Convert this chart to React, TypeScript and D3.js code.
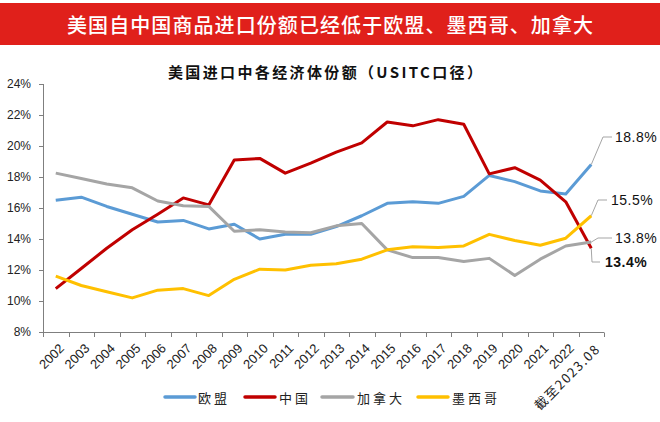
import React from "react";
import * as d3 from "d3";

const categories = ["2002","2003","2004","2005","2006","2007","2008","2009","2010","2011","2012","2013","2014","2015","2016","2017","2018","2019","2020","2021","2022","截至2023.08"];
const eu = [16.5,16.7,16.1,15.6,15.1,15.2,14.65,14.95,14.0,14.3,14.3,14.8,15.5,16.3,16.4,16.3,16.75,18.1,17.7,17.1,16.9,18.8];
const china = [10.8,12.1,13.4,14.6,15.6,16.65,16.2,19.1,19.2,18.25,18.9,19.6,20.2,21.55,21.3,21.7,21.4,18.2,18.6,17.8,16.4,13.4];
const canada = [18.25,17.9,17.55,17.3,16.45,16.15,16.1,14.5,14.6,14.45,14.4,14.85,15.0,13.3,12.8,12.8,12.55,12.75,11.65,12.7,13.55,13.8];
const mexico = [11.6,11.0,10.6,10.2,10.7,10.8,10.35,11.4,12.05,12.0,12.3,12.4,12.7,13.3,13.5,13.45,13.55,14.3,13.9,13.6,14.05,15.5];
const yTicks = [8,10,12,14,16,18,20,22,24];
const seriesNames = ["欧盟","中国","加拿大","墨西哥"];
const seriesColors = ["#5B9BD5","#C00000","#A5A5A5","#FFC000"];
const endLabels = ["18.8%","13.4%","13.8%","15.5%"];

const W = 660, H = 422;

export default function App() {
  const x = d3.scaleBand<string>().domain(categories).range([43, 604]).padding(0);
  const y = d3.scaleLinear().domain([8, 24]).range([332, 84]);
  const cx = (c: string) => (x(c) as number) + x.bandwidth() / 2;
  const line = d3.line<number>().x((_, i) => cx(categories[i])).y((v) => y(v));
  const all = [eu, china, canada, mexico];
  const last = categories[categories.length - 1];
  const lx = cx(last);
  const edges = categories.map((c) => x(c) as number).concat([604]);

  const leaders = [
    { s: 0, ex: 603, ey: 137, tx: 612, lab: 615, bold: false },
    { s: 3, ex: 598, ey: 200, tx: 607, lab: 611, bold: false },
    { s: 2, ex: 598, ey: 238, tx: 612, lab: 615, bold: false },
    { s: 1, ex: 592, ey: 262, tx: 600, lab: 605, bold: true },
  ];

  const legendItems = [
    { x: 165, w: 30, tx: 198 },
    { x: 245, w: 30, tx: 279 },
    { x: 322, w: 31, tx: 357 },
    { x: 418, w: 30, tx: 452 },
  ];

  return (
    <svg width={W} height={H} style={{ position: "absolute", left: 0, top: 0, background: "#fff" }}>
      <rect x={0} y={0} width={W} height={H} fill="#fff" />
      <rect x={0} y={3} width={W} height={42} fill="#E0201B" />
      <text x={330} y={24} textAnchor="middle" dominantBaseline="central" fill="#fff"
        fontFamily="'Noto Sans CJK SC'" fontSize={20} fontWeight={500} textLength={526} lengthAdjust="spacing">
        美国自中国商品进口份额已经低于欧盟、墨西哥、加拿大
      </text>
      <text x={168} y={71} dominantBaseline="central" fill="#111"
        fontFamily="'Noto Sans CJK SC'" fontSize={15} fontWeight={700} textLength={314} lengthAdjust="spacing">
        美国进口中各经济体份额（USITC口径）
      </text>

      <line x1={43.5} x2={43.5} y1={y(24)} y2={y(8)} stroke="#7f7f7f" strokeWidth={1} />
      {yTicks.map((t) => (
        <g key={t}>
          <line x1={39} x2={43.5} y1={y(t) + 0.5} y2={y(t) + 0.5} stroke="#7f7f7f" />
          <text x={31} y={y(t)} textAnchor="end" dominantBaseline="central" fontFamily="'Liberation Sans', Arial" fontSize={12} fill="#222">
            {t}%
          </text>
        </g>
      ))}
      <line x1={43} x2={604} y1={332.5} y2={332.5} stroke="#7f7f7f" strokeWidth={1} />
      {edges.map((e, i) => (
        <line key={i} x1={Math.round(e) + 0.5} x2={Math.round(e) + 0.5} y1={332.5} y2={337} stroke="#7f7f7f" />
      ))}
      {categories.map((c, i) => {
        const isLast = i === categories.length - 1;
        return (
          <text key={c} transform={`translate(${cx(c) + 6},${346}) rotate(-45)`} textAnchor="end"
            dominantBaseline="central" fontFamily={isLast ? "'Noto Sans CJK SC', 'Liberation Sans'" : "'Liberation Sans', Arial"}
            fontSize={13} fill="#222" letterSpacing={isLast ? 1.5 : 0}>
            {c}
          </text>
        );
      })}

      {all.map((d, i) => (
        <path key={i} d={line(d) || ""} fill="none" stroke={seriesColors[i]} strokeWidth={3} strokeLinejoin="round" />
      ))}

      {leaders.map((l, i) => {
        const py = y(all[l.s][all[l.s].length - 1]);
        return (
          <g key={i}>
            <polyline points={`${lx},${py} ${l.ex},${l.ey} ${l.tx},${l.ey}`} fill="none" stroke="#A5A5A5" strokeWidth={1} />
            <text x={l.lab} y={l.ey} dominantBaseline="central" fontFamily="'Liberation Sans', Arial" fontSize={14}
              fontWeight={l.bold ? 700 : 400} fill="#111" letterSpacing={0.5}>
              {endLabels[l.s]}
            </text>
          </g>
        );
      })}

      {legendItems.map((it, i) => (
        <g key={i}>
          <line x1={it.x} x2={it.x + it.w} y1={397} y2={397} stroke={seriesColors[i]} strokeWidth={3.5} strokeLinecap="round" />
          <text x={it.tx} y={397} dominantBaseline="central" fontFamily="'Noto Sans CJK SC'" fontSize={13} fill="#222" letterSpacing={3}>
            {seriesNames[i]}
          </text>
        </g>
      ))}
    </svg>
  );
}
